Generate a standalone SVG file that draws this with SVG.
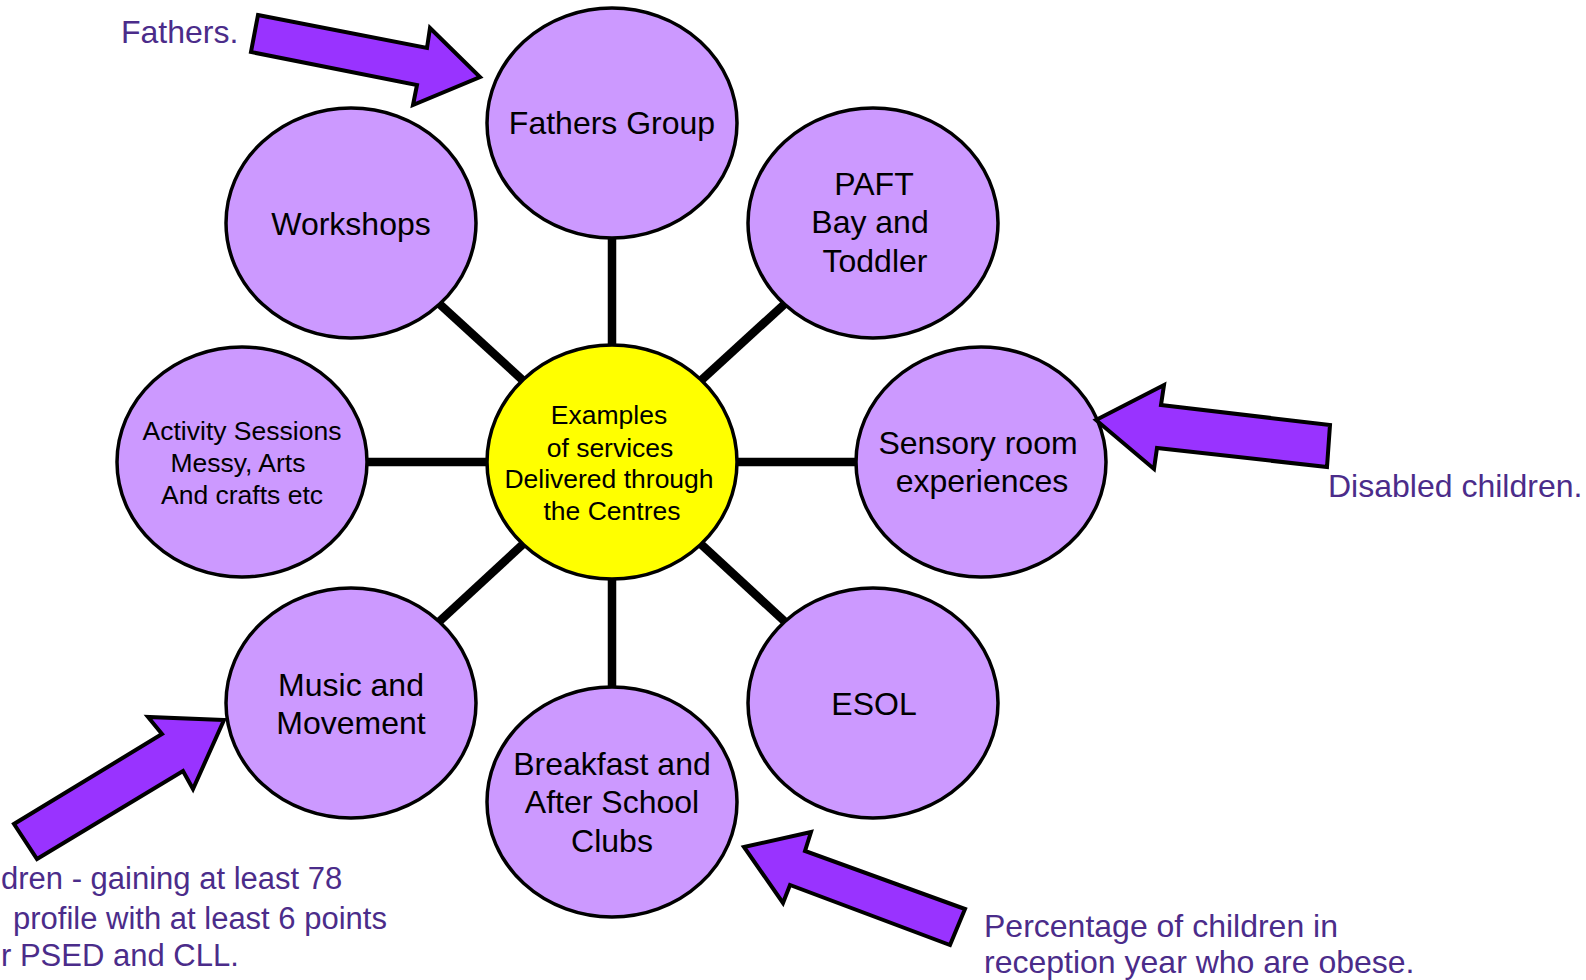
<svg xmlns="http://www.w3.org/2000/svg" width="1586" height="980" viewBox="0 0 1586 980">
<style>
.node{fill:#CC99FF;stroke:#000;stroke-width:3.5}
.hub{fill:#FFFF00;stroke:#000;stroke-width:3.5}
.lbl{font-family:"Liberation Sans",Arial,sans-serif;font-size:32px;fill:#000;text-anchor:middle}
.sm{font-family:"Liberation Sans",Arial,sans-serif;font-size:26.5px;fill:#000;text-anchor:middle}
.note{font-family:"Liberation Sans",Arial,sans-serif;font-size:32px;fill:#4B2C8A}
.note31{font-family:"Liberation Sans",Arial,sans-serif;font-size:31px;fill:#4B2C8A}
.arrow{fill:#9933FF;stroke:#000;stroke-width:4;stroke-linejoin:miter}
.conn{stroke:#000;stroke-width:8.5;fill:none}
</style>
<rect width="1586" height="980" fill="#fff"/>
<g id="connectors">
<line class="conn" x1="612" y1="462" x2="612" y2="123"/>
<line class="conn" x1="612" y1="462" x2="612" y2="802"/>
<line class="conn" x1="612" y1="462" x2="242" y2="462"/>
<line class="conn" x1="612" y1="462" x2="981" y2="462"/>
<line class="conn" x1="612" y1="462" x2="351" y2="223"/>
<line class="conn" x1="612" y1="462" x2="873" y2="223"/>
<line class="conn" x1="612" y1="462" x2="351" y2="703"/>
<line class="conn" x1="612" y1="462" x2="873" y2="703"/>
</g>
<g id="fathers-group">
<ellipse class="node" cx="612" cy="123" rx="125" ry="115"/>
<text class="lbl" x="612" y="134">Fathers Group</text>
</g>
<g id="workshops">
<ellipse class="node" cx="351" cy="223" rx="125" ry="115"/>
<text class="lbl" x="351" y="235">Workshops</text>
</g>
<g id="paft">
<ellipse class="node" cx="873" cy="223" rx="125" ry="115"/>
<text class="lbl" x="874" y="195">PAFT</text>
<text class="lbl" x="870" y="233">Bay and</text>
<text class="lbl" x="875" y="272">Toddler</text>
</g>
<g id="activity">
<ellipse class="node" cx="242" cy="462" rx="125" ry="115"/>
<text class="sm" x="242" y="440">Activity Sessions</text>
<text class="sm" x="238" y="472">Messy, Arts</text>
<text class="sm" x="242" y="504">And crafts etc</text>
</g>
<g id="sensory">
<ellipse class="node" cx="981" cy="462" rx="125" ry="115"/>
<text class="lbl" x="978" y="454">Sensory room</text>
<text class="lbl" x="982" y="492">experiences</text>
</g>
<g id="music">
<ellipse class="node" cx="351" cy="703" rx="125" ry="115"/>
<text class="lbl" x="351" y="696">Music and</text>
<text class="lbl" x="351" y="734">Movement</text>
</g>
<g id="esol">
<ellipse class="node" cx="873" cy="703" rx="125" ry="115"/>
<text class="lbl" x="874" y="715">ESOL</text>
</g>
<g id="breakfast">
<ellipse class="node" cx="612" cy="802" rx="125" ry="115"/>
<text class="lbl" x="612" y="775">Breakfast and</text>
<text class="lbl" x="612" y="813">After School</text>
<text class="lbl" x="612" y="852">Clubs</text>
</g>
<g id="hub">
<ellipse class="hub" cx="612" cy="462" rx="125" ry="117"/>
<text class="sm" x="609" y="424">Examples</text>
<text class="sm" x="610" y="457">of services</text>
<text class="sm" x="609" y="488">Delivered through</text>
<text class="sm" x="612" y="520">the Centres</text>
</g>
<g id="note-fathers">
<polygon class="arrow" points="258,15 427,48 430,28 480,77 413,105 417,85 251,52"/>
<text class="note" x="121" y="43">Fathers.</text>
</g>
<g id="note-disabled">
<polygon class="arrow" points="1096,420 1164,385 1161,405 1330,425 1327,467 1157,448 1154,469"/>
<text class="note" x="1328" y="497">Disabled children.</text>
</g>
<g id="note-profile">
<polygon class="arrow" points="224,720 148,717 162,734 14,824 37,859 183,771 193,789"/>
<text class="note31" x="1" y="889">dren - gaining at least 78</text>
<text class="note31" x="13" y="929">profile with at least 6 points</text>
<text class="note31" x="1" y="966">r PSED and CLL.</text>
</g>
<g id="note-obese">
<polygon class="arrow" points="744,847 811,832 805,851 965,909 950,945 790,885 783,903"/>
<text class="note" x="984" y="937">Percentage of children in</text>
<text class="note" x="984" y="973">reception year who are obese.</text>
</g>
</svg>
